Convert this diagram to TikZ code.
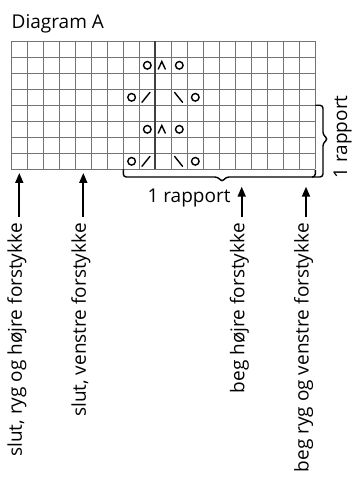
\documentclass[tikz,border=0pt]{standalone}
\usepackage{fontspec}
\setmainfont{Open Sans}
\usetikzlibrary{arrows.meta}
\tikzset{
  gridline/.style={draw=black!55, line width=0.9pt},
  midline/.style={draw=black!75, line width=1.8pt},
  sym/.style={draw=black, line width=1.4pt, line cap=round},
  bracepath/.style={draw=black, line width=1.4pt, rounded corners=3pt},
  arr/.style={draw=black, line width=1.8pt, -{Triangle[length=10pt,width=8pt]}},
  lbl/.style={inner sep=0pt, font=\fontsize{19}{23}\selectfont, text=black},
}
\begin{document}
\begin{tikzpicture}[x=1pt,y=-1pt]
\useasboundingbox (0,0) rectangle (353,478);
% title
\node[lbl, anchor=base west] (title) at (11.5,28.3) {Diagram A};
% grid
\foreach \i in {0,...,19} {
  \draw[gridline] ({11.3+16*\i},41.3) -- ({11.3+16*\i},169.3);
}
\foreach \j in {0,...,8} {
  \draw[gridline] (11.3,{41.3+16*\j}) -- (315.3,{41.3+16*\j});
}
\draw[midline] (155.3,41.3) -- (155.3,169.3);
% symbols
\foreach \r in {65.3,129.3} {
  \draw[sym] (147.3,\r) circle (3.8);
  \draw[sym] (158.3,{\r+3.8}) -- (161.8,{\r-3.8}) -- (165.3,{\r+3.8});
  \draw[sym] (179.3,\r) circle (3.8);
}
\foreach \r in {97.3,161.3} {
  \draw[sym] (131.6,\r) circle (3.8);
  \draw[sym] (142,{\r+5}) -- (150,{\r-5});
  \draw[sym] (174.5,{\r-5}) -- (182.5,{\r+5});
  \draw[sym] (195.3,\r) circle (3.8);
}
% braces
\draw[bracepath] (315.3,105.3) -- (323,105.3) -- (323,135) -- (328,139) -- (323,143) -- (323,177) -- (312,177);
\draw[bracepath] (123.3,169.3) -- (123.3,177) -- (218,177) -- (222,182) -- (226,177) -- (315.3,177) -- (315.3,170);
\node[lbl, anchor=base] (rapv) at (189,202.7) {1 rapport};
\node[lbl, anchor=base, rotate=90] (raph) at (347,137) {1 rapport};
% bottom labels and arrows
\node[lbl, anchor=mid east, rotate=90] (t1) at (19.3,223) {slut, ryg og højre forstykke};
\node[lbl, anchor=mid east, rotate=90] (t2) at (83.3,223) {slut, venstre forstykke};
\node[lbl, anchor=mid east, rotate=90] (t3) at (241.7,223) {beg højre forstykke};
\node[lbl, anchor=mid east, rotate=90] (t4) at (306,223) {beg ryg og venstre forstykke};
\coordinate (a1) at (19.3,173);
\coordinate (a2) at (83.3,173);
\coordinate (a3) at (241.7,186.7);
\coordinate (a4) at (306,186.7);
\draw[arr, shorten <=6pt] (t1.mid east) -- (a1);
\draw[arr, shorten <=6pt] (t2.mid east) -- (a2);
\draw[arr, shorten <=6pt] (t3.mid east) -- (a3);
\draw[arr, shorten <=6pt] (t4.mid east) -- (a4);
\end{tikzpicture}
\end{document}
